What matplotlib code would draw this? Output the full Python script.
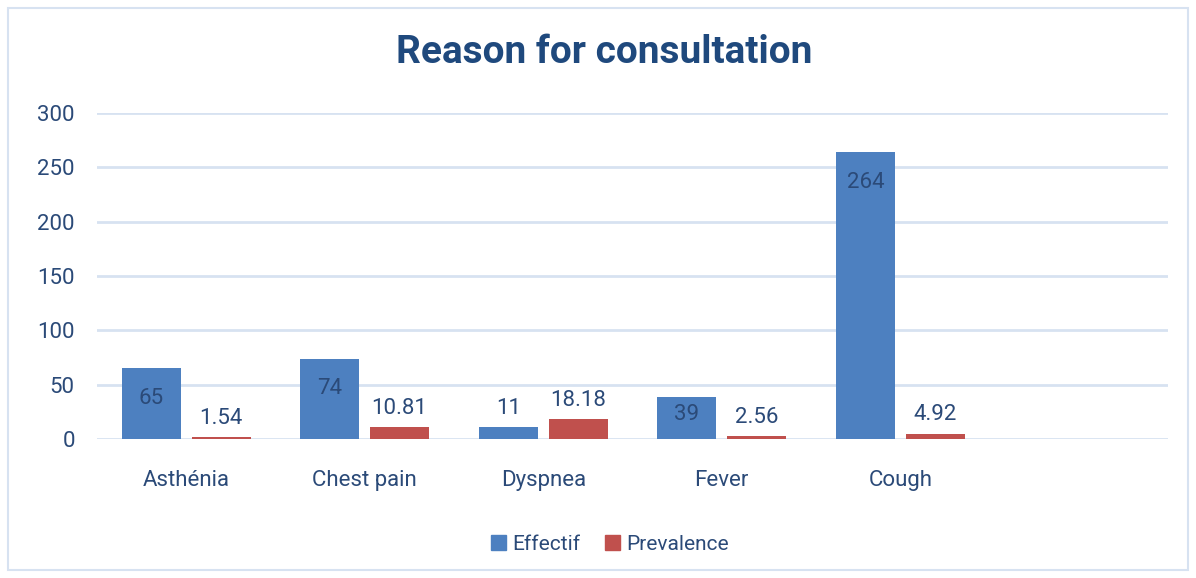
import matplotlib.pyplot as plt
import matplotlib.patches as mpatches
import numpy as np

categories = ["Asthénia", "Chest pain", "Dyspnea", "Fever", "Cough", ""]
effectif = [65, 74, 11, 39, 264]
prevalence = [1.54, 10.81, 18.18, 2.56, 4.92]
eff_labels = ["65", "74", "11", "39", "264"]
prev_labels = ["1.54", "10.81", "18.18", "2.56", "4.92"]

blue = "#4d80c0"
red = "#c0504d"
txt = "#2b4a78"
grid_c = "#d7e2f1"

plt.rcParams["font.family"] = ["Roboto", "DejaVu Sans"]

fig = plt.figure(figsize=(11.96, 5.78), dpi=100)
ax = fig.add_axes([0.0811, 0.2405, 0.8955, 0.564])

x = np.arange(len(categories))
n = len(effectif)
w = 0.33
ax.bar(x[:n] - 0.195, effectif, w, color=blue, zorder=3)
ax.bar(x[:n] + 0.195, prevalence, w, color=red, zorder=3)

# data labels: effectif inside the top, prevalence above
for i in range(n):
    if effectif[i] > 50:
        off, va = -14, "top"
    elif effectif[i] > 20:
        off, va = -5, "top"
    else:
        off, va = 6, "bottom"
    ax.annotate(eff_labels[i], (x[i] - 0.195, effectif[i]), xytext=(0, off),
                textcoords="offset points", ha="center", va=va,
                fontsize=16, color=txt, zorder=4)
    ax.annotate(prev_labels[i], (x[i] + 0.195, prevalence[i]), xytext=(0, 6),
                textcoords="offset points", ha="center", va="bottom",
                fontsize=16, color=txt, zorder=4)

ax.set_xlim(-0.5, 5.5)
ax.set_ylim(0, 300)
ax.set_yticks(np.arange(0, 301, 50))
ax.set_xticks(x[:n])
ax.set_xticklabels(categories[:n])
ax.tick_params(axis="y", length=0, pad=16, labelsize=16, labelcolor=txt)
ax.tick_params(axis="x", length=0, pad=22, labelsize=16, labelcolor=txt)
ax.grid(axis="y", color=grid_c, linewidth=2, zorder=0)
for s in ax.spines.values():
    s.set_visible(False)

fig.text(0.505, 0.91, "Reason for consultation", ha="center", va="center",
         fontsize=28, fontweight="bold", color="#1f497d")

handles = [mpatches.Patch(color=blue, label="Effectif"),
           mpatches.Patch(color=red, label="Prevalence")]
fig.legend(handles=handles, loc="center", bbox_to_anchor=(0.51, 0.058), ncol=2,
           frameon=False, fontsize=15, handlelength=0.7, handleheight=0.7,
           handletextpad=0.3, columnspacing=1.2, labelcolor=txt)

fig.patches.append(mpatches.Rectangle((8 / 1196, 8 / 578), 1180 / 1196, 562 / 578,
                                      transform=fig.transFigure, fill=False,
                                      edgecolor=grid_c, linewidth=1.5))

plt.savefig("out.png", dpi=100)
